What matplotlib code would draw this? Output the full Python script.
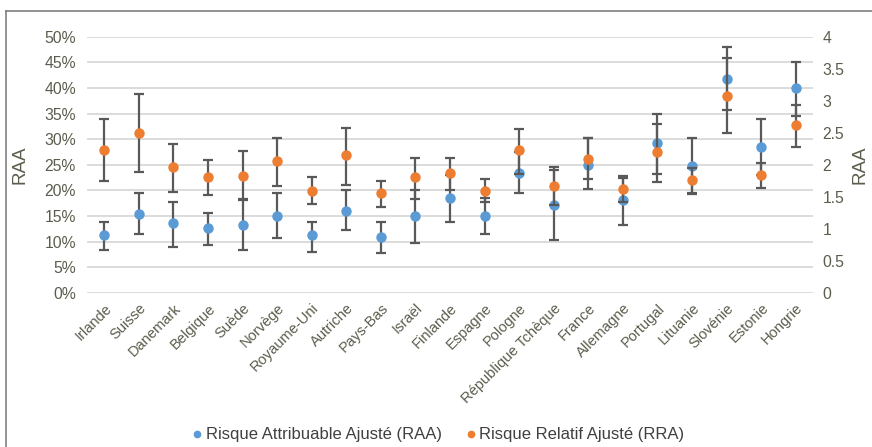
import numpy as np
import matplotlib.pyplot as plt
from matplotlib.lines import Line2D
from matplotlib.ticker import FuncFormatter

plt.rcParams['font.family'] = ['Liberation Sans', 'DejaVu Sans']

countries = ['Irlande', 'Suisse', 'Danemark', 'Belgique', 'Suède', 'Norvège',
             'Royaume-Uni', 'Autriche', 'Pays-Bas', 'Israël', 'Finlande',
             'Espagne', 'Pologne', 'République Tchèque', 'France', 'Allemagne',
             'Portugal', 'Lituanie', 'Slovénie', 'Estonie', 'Hongrie']

# Risque Attribuable Ajusté (%), with confidence bounds
raa    = [11.2, 15.3, 13.6, 12.6, 13.3, 15.0, 11.2, 16.0, 10.8, 15.0, 18.4,
          15.0, 23.3, 17.1, 25.0, 18.1, 29.2, 24.7, 41.7, 28.5, 40.0]
raa_lo = [8.3, 11.5, 9.0, 9.4, 8.3, 10.7, 8.0, 12.2, 7.7, 9.8, 13.9,
          11.5, 19.5, 10.2, 20.2, 13.3, 23.2, 19.4, 35.7, 22.9, 34.6]
raa_hi = [13.9, 19.4, 17.7, 15.6, 18.2, 19.4, 13.9, 20.1, 13.9, 20.0, 22.9,
          18.4, 27.4, 24.0, 30.2, 22.4, 35.0, 30.2, 47.9, 34.0, 45.1]

# Risque Relatif Ajusté (right axis), with confidence bounds
rra    = [2.23, 2.50, 1.97, 1.81, 1.83, 2.06, 1.59, 2.15, 1.56, 1.81, 1.87,
          1.59, 2.23, 1.67, 2.09, 1.62, 2.20, 1.76, 3.08, 1.84, 2.62]
rra_lo = [1.75, 1.89, 1.58, 1.53, 1.46, 1.67, 1.39, 1.69, 1.34, 1.47, 1.60,
          1.42, 1.85, 1.37, 1.78, 1.42, 1.73, 1.54, 2.50, 1.64, 2.28]
rra_hi = [2.72, 3.11, 2.33, 2.08, 2.22, 2.42, 1.81, 2.58, 1.75, 2.11, 2.11,
          1.78, 2.56, 1.97, 2.42, 1.83, 2.64, 1.95, 3.66, 2.03, 2.94]

blue = '#5B9BD5'
orange = '#ED7D31'
err_col = '#595959'
txt_col = '#5c5c4c'
grid_col = '#d9d9d9'

x = np.arange(len(countries))
raa_a = np.array(raa) / 100
raa_err = [raa_a - np.array(raa_lo) / 100, np.array(raa_hi) / 100 - raa_a]
rra_a = np.array(rra)
rra_err = [rra_a - np.array(rra_lo), np.array(rra_hi) - rra_a]

fig = plt.figure(figsize=(8.72, 4.47), dpi=100)
ax = fig.add_axes([87 / 872, 1 - 292.7 / 447, 726 / 872, 256 / 447])
ax2 = ax.twinx()

ax.errorbar(x, raa_a, yerr=raa_err, fmt='none', ecolor=err_col,
            elinewidth=1.6, capsize=3.8, capthick=1.6, zorder=2)
ax.plot(x, raa_a, 'o', color=blue, markersize=6.5, zorder=3)
ax2.errorbar(x, rra_a, yerr=rra_err, fmt='none', ecolor=err_col,
             elinewidth=1.6, capsize=3.8, capthick=1.6, zorder=2)
ax2.plot(x, rra_a, 'o', color=orange, markersize=6.5, zorder=3)

ax.set_xlim(-0.5, len(countries) - 0.5)
ax.set_ylim(0, 0.5)
ax2.set_ylim(0, 4)
ax.set_yticks(np.arange(0, 0.501, 0.05))
ax2.set_yticks(np.arange(0, 4.01, 0.5))
ax.yaxis.set_major_formatter(FuncFormatter(lambda v, p: f'{v * 100:.0f}%'))
ax2.yaxis.set_major_formatter(FuncFormatter(lambda v, p: f'{v:g}'))
ax.yaxis.grid(True, color=grid_col, linewidth=1.3)
ax.set_axisbelow(True)

for a in (ax, ax2):
    for s in a.spines.values():
        s.set_visible(False)
    a.tick_params(length=0, labelsize=11.3, labelcolor=txt_col)
ax.tick_params(axis='y', pad=8)
ax2.tick_params(axis='y', pad=7)

ax.set_xticks(x)
ax.set_xticklabels(countries, rotation=45, ha='right', rotation_mode='anchor',
                   fontsize=10.5, color=txt_col)
ax.tick_params(axis='x', pad=6)

ax.set_ylabel('RAA', fontsize=13.5, color=txt_col, labelpad=11)
ax2.set_ylabel('RAA', fontsize=13.5, color=txt_col, labelpad=5)

handles = [Line2D([], [], marker='o', ls='none', color=blue, markersize=4.5),
           Line2D([], [], marker='o', ls='none', color=orange, markersize=4.5)]
fig.legend(handles, ['Risque Attribuable Ajusté (RAA)', 'Risque Relatif Ajusté (RRA)'],
           loc='center', bbox_to_anchor=(0.503, 1 - 435 / 447), ncol=2,
           frameon=False, fontsize=12, handlelength=0.5, handletextpad=0.25,
           columnspacing=1.5, labelcolor='#404040')

# chart frame (only top and left edges fall inside the picture)
fig.add_artist(Line2D([6 / 872, 1], [1 - 11 / 447, 1 - 11 / 447],
                      color='#7f7f7f', lw=1.2, transform=fig.transFigure))
fig.add_artist(Line2D([6 / 872, 6 / 872], [0, 1 - 11 / 447],
                      color='#7f7f7f', lw=1.2, transform=fig.transFigure))

fig.savefig('out.png', dpi=100)
